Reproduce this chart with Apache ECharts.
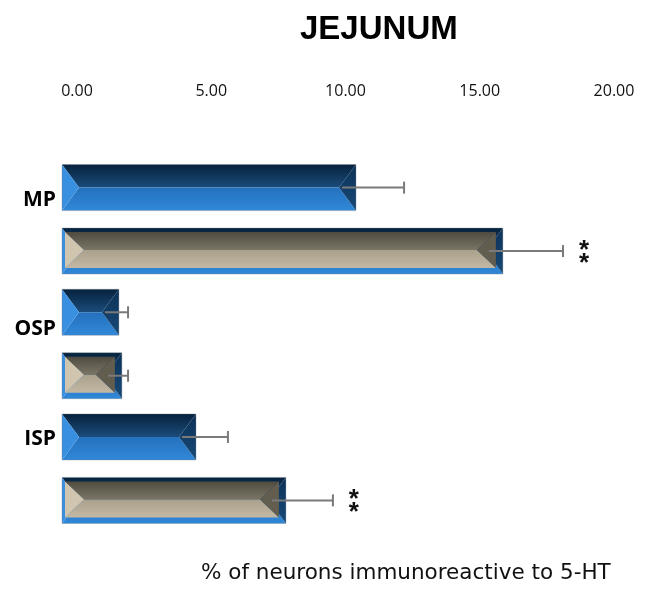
<!DOCTYPE html>
<html>
<head>
<meta charset="utf-8">
<script src="https://cdn.jsdelivr.net/npm/echarts@6/dist/echarts.min.js"></script>
<style>html,body{margin:0;padding:0;background:#fff;}#c{width:655px;height:590px;}</style>
</head>
<body>
<div id="c"></div>
<script>
var chartTitle = 'JEJUNUM';
var axisTitle = '% of neurons immunoreactive to 5-HT';
var categories = ['MP', 'OSP', 'ISP'];
var blueValues = [10.95, 2.12, 4.99];
var blueErrors = [1.79, 0.34, 1.19];
var grayValues = [16.42, 2.23, 8.34];
var grayErrors = [2.24, 0.23, 1.75];
var grayMarks = ['**', '', '**'];
var xMin = 0, xMax = 20, xInterval = 5;

var chart = echarts.init(document.getElementById('c'));
var LG = echarts.graphic.LinearGradient;

var bluePal = {
  top: new LG(0,0,0,1,[{offset:0,color:'#06223d'},{offset:1,color:'#1b4c7b'}]),
  bottom: new LG(0,0,0,1,[{offset:0,color:'#2471bd'},{offset:1,color:'#3088d8'}]),
  left: '#3a90e0',
  right: new LG(0,0,0,1,[{offset:0,color:'#0c3157'},{offset:1,color:'#184a78'}])
};
var grayPal = {
  top: new LG(0,0,0,1,[{offset:0,color:'#4f4b40'},{offset:1,color:'#7a7565'}]),
  bottom: new LG(0,0,0,1,[{offset:0,color:'#aaa18d'},{offset:1,color:'#c2b8a4'}]),
  left: '#d0c6b0',
  right: '#625d4f'
};

function pyramid(x0, y0, x1, y1, d, pal) {
  var ym = (y0 + y1) / 2;
  d = Math.min(d, (x1 - x0) / 2);
  return [
    {type:'polygon', shape:{points:[[x0,y0],[x1,y0],[x1-d,ym],[x0+d,ym]]}, style:{fill:pal.top}},
    {type:'polygon', shape:{points:[[x0+d,ym],[x1-d,ym],[x1,y1],[x0,y1]]}, style:{fill:pal.bottom}},
    {type:'polygon', shape:{points:[[x0,y0],[x0+d,ym],[x0,y1]]}, style:{fill:pal.left}},
    {type:'polygon', shape:{points:[[x1,y0],[x1,y1],[x1-d,ym]]}, style:{fill:pal.right}}
  ];
}

function makeRender(isGray) {
  return function (params, api) {
    var v = api.value(0), cat = api.value(1), err = api.value(2);
    var band = api.size([0, 1])[1];
    var pEnd = api.coord([v, cat]);
    var pStart = api.coord([0, cat]);
    var pErr = api.coord([v + err, cat]);
    var cy = pEnd[1] + (isGray ? 1 : -1) * 0.2545 * band;
    var h = 0.369 * band;
    var x0 = pStart[0], x1 = pEnd[0], y0 = cy - h / 2, y1 = cy + h / 2;
    var children = pyramid(x0, y0, x1, y1, 17, bluePal);
    if (isGray) {
      children = children.concat(pyramid(x0 + 3, y0 + 4, x1 - 7, y1 - 6, 19, grayPal));
    }
    children.push({type:'rect', shape:{x:x0, y:y0, width:x1-x0, height:y1-y0},
      style:{fill:'none', stroke:'rgba(120,130,140,0.35)', lineWidth:1}});
    var ex0 = x1 - 14;
    children.push({type:'line', shape:{x1:ex0, y1:cy, x2:pErr[0], y2:cy}, style:{stroke:'#7a7a7a', lineWidth:2}});
    children.push({type:'line', shape:{x1:pErr[0], y1:cy-6, x2:pErr[0], y2:cy+6}, style:{stroke:'#7a7a7a', lineWidth:2}});
    if (isGray && grayMarks[params.dataIndex]) {
      children.push({type:'text', style:{x:pErr[0] + 21, y:cy + 6, text:'*\n*', fill:'#111',
        font:'bold 26px "Liberation Sans", Arial, sans-serif', lineHeight:13, align:'center', verticalAlign:'middle'}});
    }
    return {type:'group', children:children};
  };
}

var labelShift = {0: 39, 1: 29, 2: 60};

chart.setOption({
  animation: false,
  backgroundColor: '#fff',
  title: {
    text: chartTitle, left: 295, top: 8,
    textStyle: {fontFamily: '"Liberation Sans", Arial, sans-serif', fontWeight: 'bold', fontSize: 33, color: '#000'}
  },
  grid: {left: 62, right: 56, top: 157, height: 374},
  xAxis: {
    type: 'value', position: 'top', min: xMin, max: xMax, interval: xInterval,
    axisLine: {show: false}, axisTick: {show: false}, splitLine: {show: false},
    axisLabel: {
      margin: 58, padding: [0, 0, 0, 30], color: '#111', fontSize: 16,
      fontFamily: '"Open Sans", sans-serif',
      formatter: function (v) { return v.toFixed(2); }
    }
  },
  yAxis: {
    type: 'category', data: categories, inverse: true,
    axisLine: {show: false}, axisTick: {show: false}, splitLine: {show: false},
    axisLabel: {
      margin: 6, color: '#000',
      formatter: function (v, i) { return '{c' + i + '|' + v + '}'; },
      rich: {
        c0: {fontSize: 21, fontWeight: 'bold', fontFamily: '"Open Sans", sans-serif', color: '#000', padding: [0,0,labelShift[0],0]},
        c1: {fontSize: 21, fontWeight: 'bold', fontFamily: '"Open Sans", sans-serif', color: '#000', padding: [0,0,labelShift[1],0]},
        c2: {fontSize: 21, fontWeight: 'bold', fontFamily: '"Open Sans", sans-serif', color: '#000', padding: [0,0,labelShift[2],0]}
      }
    }
  },
  graphic: [{
    type: 'text', left: 201, top: 562,
    style: {text: axisTitle, font: '21.5px "DejaVu Sans", sans-serif', fill: '#111'}
  }],
  series: [
    {type: 'custom', name: 'blue', renderItem: makeRender(false),
     encode: {x: 0, y: 1},
     data: categories.map(function (c, i) { return [blueValues[i], i, blueErrors[i]]; })},
    {type: 'custom', name: 'gray', renderItem: makeRender(true),
     encode: {x: 0, y: 1},
     data: categories.map(function (c, i) { return [grayValues[i], i, grayErrors[i]]; })}
  ]
});
</script>
</body>
</html>
